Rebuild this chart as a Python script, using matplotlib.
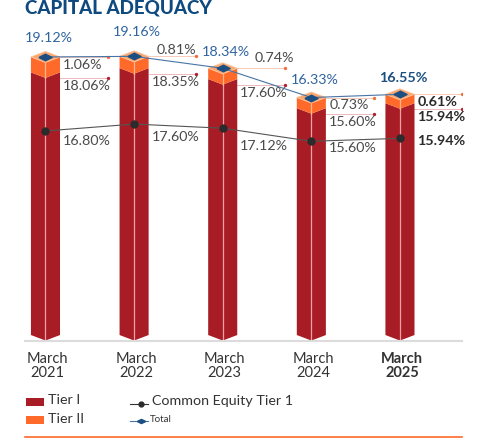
import matplotlib
matplotlib.use("Agg")
import matplotlib.pyplot as plt
from matplotlib.patches import Polygon, Rectangle
from matplotlib.lines import Line2D

plt.rcParams['font.family'] = ['Lato', 'DejaVu Sans']

# data
years = ['March\n2021', 'March\n2022', 'March\n2023', 'March\n2024', 'March\n2025']
tier1 = [18.06, 18.35, 17.60, 15.60, 15.94]
tier2 = [1.06, 0.81, 0.74, 0.73, 0.61]
cet1 = [16.80, 17.60, 17.12, 15.60, 15.94]
total = [a + b for a, b in zip(tier1, tier2)]

# label offsets in pixels (hand placed like the original)
total_dy = [19, 24, 16, 18, 16]
t2_dx = [3, 8, 17, 4, 3]
t2_dy = [-8, 6, 10, -7, -8]
cet_dy = [-10, -13, -18, -7, -3]

RED = '#a81c25'
ORANGE = '#ff6a2a'
TOPFACE = '#f9a56e'
BLUE = '#1b4f82'
LINEBLUE = '#4774a4'
GREY_TXT = '#4a4a4a'

W, H = 479, 441
fig = plt.figure(figsize=(W / 100, H / 100), dpi=100)
ax = fig.add_axes([25 / W, (H - 341) / H, 437 / W, 321 / H])
ax.set_xlim(-0.231, 4.70)
ax.set_ylim(-0.41, 21.66)
ax.axis('off')

w = 0.164   # half bar width
d = 0.38    # chevron depth
lead = 0.54
fs = 10.3

for i in range(len(years)):
    t1, T = tier1[i], total[i]
    last = i == len(years) - 1
    ax.add_patch(Polygon([(i - w, 0), (i, -d), (i + w, 0), (i + w, t1), (i, t1 - d), (i - w, t1)],
                         closed=True, fc=RED, ec='none', zorder=2))
    ax.add_patch(Polygon([(i - w, t1), (i, t1 - d), (i + w, t1), (i + w, T), (i, T - d), (i - w, T)],
                         closed=True, fc=ORANGE, ec='none', zorder=2))
    ax.add_patch(Polygon([(i - w, T), (i, T - d), (i + w, T), (i, T + d)],
                         closed=True, fc=TOPFACE, ec='#fbc49c', lw=0.6, zorder=2))
    ax.plot([i, i], [-d, t1 - d], color='#f2a0a4', lw=0.9, zorder=3)
    ax.plot([i, i], [t1 - d, T - d], color='#ffb48a', lw=0.9, zorder=3)

    # leader lines
    ax.plot([i + w, i + w + lead], [T, T], color='#f8c9b8', lw=0.7, zorder=1)
    ax.plot([i + w + lead], [T], 'o', color='#f07040', ms=1.4, zorder=1)
    ax.plot([i + w, i + w + lead], [t1 - d, t1 - d], color='#efb8bb', lw=0.7, zorder=1)
    ax.plot([i + w + lead], [t1 - d], 'o', color='#b02030', ms=1.4, zorder=1)

    fw = 'bold' if last else 'normal'
    tc = '#2a2a2a' if last else GREY_TXT
    ax.annotate('%.2f%%' % tier2[i], (i + w, T), xytext=(t2_dx[i], t2_dy[i]),
                textcoords='offset pixels', ha='left', va='center',
                fontsize=fs, color=tc, fontweight=fw)
    ax.annotate('%.2f%%' % t1, (i + w, t1 - d), xytext=(3, -8),
                textcoords='offset pixels', ha='left', va='center',
                fontsize=fs, color=tc, fontweight=fw)
    ax.annotate('%.2f%%' % T, (i, T), xytext=(3, total_dy[i]),
                textcoords='offset pixels', ha='center', va='center',
                fontsize=fs, color=BLUE if last else '#2f64a0', fontweight=fw)
    ax.annotate(years[i], (i, -0.41), xytext=(2, -11), textcoords='offset pixels',
                ha='center', va='top', fontsize=10.5, color='#333333',
                fontweight=fw, linespacing=1.0)

# total line with diamonds
diamond = [(-1, 0), (0, 0.5), (1, 0), (0, -0.5), (-1, 0)]
xs = list(range(len(years)))
ax.plot(xs, total, color=LINEBLUE, lw=0.8, zorder=4)
ax.plot(xs, total, ls='none', marker=diamond, ms=9.5, color=BLUE, zorder=5)

# CET1 on its own scale
ax2 = ax.twinx()
ax2.set_ylim(-7.62, 29.7)
ax2.axis('off')
ax2.plot(xs, cet1, color='#555555', lw=0.8, marker='o', ms=5, mfc='#2b2b2b', mec='#2b2b2b', zorder=4)
for i, v in enumerate(cet1):
    last = i == len(years) - 1
    ax2.annotate('%.2f%%' % v, (i + w, v), xytext=(3, cet_dy[i]),
                 textcoords='offset pixels', ha='left', va='center', fontsize=fs,
                 color='#2a2a2a' if last else GREY_TXT,
                 fontweight='bold' if last else 'normal')

# baseline and bottom rule
fig.add_artist(Line2D([25 / W, 462 / W], [(H - 341) / H] * 2, color='#dcdcdc', lw=1.5))
fig.add_artist(Line2D([25 / W, 462 / W], [(H - 437) / H] * 2, color=ORANGE, lw=1.2))

# title
fig.text(25 / W, (H - 13.5) / H, 'CAPITAL ADEQUACY', ha='left', va='baseline',
         fontsize=13.5, fontweight='black', color='#0e4a7f')

# legend
fig.add_artist(Rectangle((26 / W, (H - 406) / H), 18 / W, 8 / H, fc=RED, ec='none'))
fig.add_artist(Rectangle((26 / W, (H - 424) / H), 18 / W, 8 / H, fc=ORANGE, ec='none'))
fig.text(48 / W, (H - 400) / H, 'Tier I', ha='left', va='center', fontsize=10.3, color='#333333')
fig.text(48 / W, (H - 419) / H, 'Tier II', ha='left', va='center', fontsize=10.3, color='#333333')
fig.add_artist(Line2D([130 / W, 148 / W], [(H - 404) / H] * 2, color='#333333', lw=0.8))
fig.add_artist(Line2D([141 / W], [(H - 404) / H], marker='o', ms=3.5, color='#2b2b2b'))
fig.text(152 / W, (H - 401) / H, 'Common Equity Tier 1', ha='left', va='center', fontsize=10.3, color='#333333')
fig.add_artist(Line2D([130 / W, 148 / W], [(H - 421) / H] * 2, color=LINEBLUE, lw=0.8))
fig.add_artist(Line2D([141 / W], [(H - 421) / H], marker=diamond, ms=6, color=BLUE))
fig.text(150 / W, (H - 420) / H, 'Total', ha='left', va='center', fontsize=7, color='#333333')

fig.savefig('out.png', dpi=100)
